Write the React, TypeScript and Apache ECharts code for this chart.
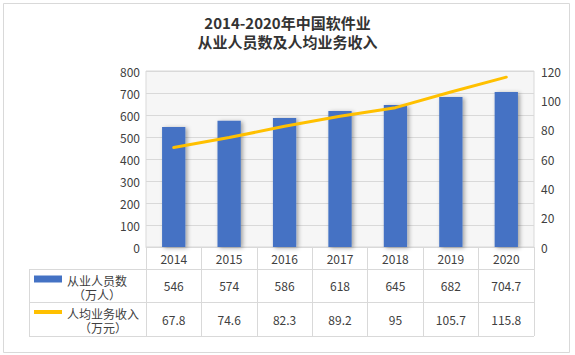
import React, { useEffect, useRef } from "react";
import * as echarts from "echarts";

const years = ["2014", "2015", "2016", "2017", "2018", "2019", "2020"];
const workers = [546, 574, 586, 618, 645, 682, 704.7];
const income = [67.8, 74.6, 82.3, 89.2, 95, 105.7, 115.8];
const seriesNames = ["从业人员数", "人均业务收入"];
const seriesUnits = ["（万人）", "（万元）"];
const leftTicks = { min: 0, max: 800, interval: 100 };
const rightTicks = { min: 0, max: 120, interval: 20 };

const FONT = '"Noto Sans CJK SC", "Noto Sans", sans-serif';
const LEGEND_FONT = '"Liberation Sans", "Noto Sans CJK SC", sans-serif';
const TEXT = "#404040";
const LINE = "#d9d9d9";

export default function App() {
  const ref = useRef<HTMLDivElement>(null);
  useEffect(() => {
    document.body.style.margin = "0";
    const chart = echarts.init(ref.current!, undefined, { renderer: "svg" });
    const tableLeft = 29;
    const tableRight = 534;
    chart.setOption({
      animation: false,
      backgroundColor: "#ffffff",
      textStyle: { fontFamily: FONT },
      title: {
        text: "2014-2020年中国软件业\n从业人员数及人均业务收入",
        left: "center",
        top: 8,
        textStyle: {
          fontFamily: FONT,
          fontSize: 15,
          fontWeight: "bold",
          color: "#333333",
          lineHeight: 19,
        },
      },
      grid: {
        left: 146,
        right: 41,
        top: 71,
        bottom: 108,
        show: true,
        backgroundColor: "#f6f6f6",
        borderColor: LINE,
        borderWidth: 1,
      },
      legend: {
        orient: "vertical",
        left: 29,
        top: 270,
        itemWidth: 28,
        itemHeight: 28,
        itemGap: 5,
        itemTextGap: 8,
        formatter: (name: string) =>
          `{n|${name}}\n{u|${seriesUnits[seriesNames.indexOf(name)]}}`,
        textStyle: {
          fontFamily: LEGEND_FONT,
          fontSize: 12,
          color: TEXT,
          rich: {
            n: { fontSize: 12, lineHeight: 14, color: TEXT, fontFamily: LEGEND_FONT },
            u: {
              fontSize: 12,
              lineHeight: 14,
              color: TEXT,
              fontFamily: LEGEND_FONT,
              align: "center",
            },
          },
        },
        data: [
          { name: seriesNames[0], icon: "path://M0,0M0,0.5h28v7h-28zM28,28" },
          { name: seriesNames[1], icon: "path://M0,0M0,2h28v4h-28zM28,28" },
        ],
      },
      xAxis: {
        type: "category",
        data: years,
        axisLine: { show: true, lineStyle: { color: LINE } },
        axisTick: { show: true, length: 89, lineStyle: { color: LINE } },
        axisLabel: {
          margin: 0,
          interval: 0,
          formatter: (val: string, idx: number) =>
            `{a|${val}}\n{b|${workers[idx]}}\n{c|${income[idx]}}`,
          rich: {
            a: { fontSize: 12, lineHeight: 22, color: TEXT, fontFamily: FONT },
            b: { fontSize: 12, lineHeight: 33, color: TEXT, fontFamily: FONT },
            c: { fontSize: 12, lineHeight: 34, color: TEXT, fontFamily: FONT },
          },
        },
      },
      yAxis: [
        {
          type: "value",
          ...leftTicks,
          axisLine: { show: false },
          axisTick: { show: false },
          axisLabel: { margin: 6, fontSize: 12, color: TEXT, fontFamily: FONT },
          splitLine: { lineStyle: { color: LINE } },
        },
        {
          type: "value",
          ...rightTicks,
          axisLine: { show: false },
          axisTick: { show: false },
          axisLabel: { margin: 7, fontSize: 12, color: TEXT, fontFamily: FONT },
          splitLine: { show: false },
        },
      ],
      series: [
        {
          name: seriesNames[0],
          type: "bar",
          data: workers,
          barWidth: "42%",
          itemStyle: {
            color: "#4472C4",
            shadowBlur: 4,
            shadowColor: "rgba(0,0,0,0.35)",
            shadowOffsetX: 2,
            shadowOffsetY: 1,
          },
        },
        {
          name: seriesNames[1],
          type: "line",
          yAxisIndex: 1,
          data: income,
          symbol: "none",
          lineStyle: { color: "#FFC000", width: 3, cap: "round" },
          itemStyle: { color: "#FFC000" },
        },
      ],
      graphic: [
        {
          type: "rect",
          shape: { x: 3.5, y: 3.5, width: 566, height: 349 },
          style: { fill: "none", stroke: "#d9d9d9", lineWidth: 1 },
          silent: true,
        },
        ...[269, 302, 336].map((y) => ({
          type: "line",
          shape: { x1: tableLeft, y1: y + 0.5, x2: tableRight, y2: y + 0.5 },
          style: { stroke: LINE, lineWidth: 1 },
          silent: true,
        })),
        {
          type: "line",
          shape: { x1: tableLeft + 0.5, y1: 269, x2: tableLeft + 0.5, y2: 336 },
          style: { stroke: LINE, lineWidth: 1 },
          silent: true,
        },
      ],
    });
    return () => chart.dispose();
  }, []);
  return <div ref={ref} style={{ width: 575, height: 355 }} />;
}
